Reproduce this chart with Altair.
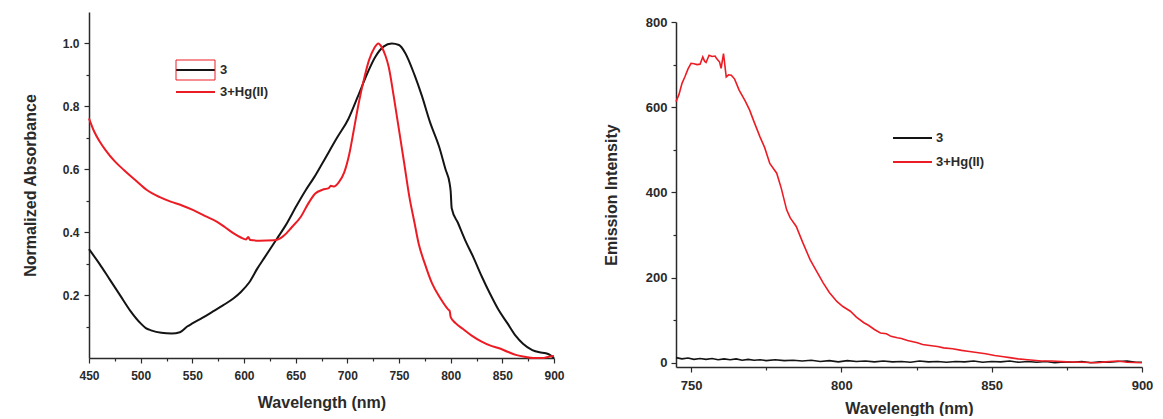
import altair as alt
import pandas as pd

# ---- absorbance spectra (normalized) ----
abs_wl_3 = [450, 460, 470, 480, 490, 500, 505, 510, 520, 530, 538, 545, 550, 560, 570,
            580, 590, 597, 605, 613, 620, 632, 640, 651, 660, 668, 676, 690, 701, 710,
            720, 727, 735, 743, 750, 756, 765, 772, 780, 789, 795, 799, 800, 801, 807,
            814, 822, 830, 838, 846, 855, 863, 870, 879, 886, 892, 896, 900]
abs_3 = [0.346, 0.30, 0.25, 0.20, 0.15, 0.11, 0.095, 0.088, 0.080, 0.078, 0.082, 0.10,
         0.11, 0.128, 0.148, 0.168, 0.19, 0.21, 0.24, 0.285, 0.32, 0.38, 0.42, 0.485,
         0.535, 0.575, 0.62, 0.70, 0.76, 0.83, 0.91, 0.957, 0.99, 1.0, 0.995, 0.97, 0.90,
         0.835, 0.75, 0.67, 0.60, 0.555, 0.53, 0.476, 0.43, 0.375, 0.32, 0.26, 0.205,
         0.155, 0.11, 0.07, 0.045, 0.025, 0.018, 0.015, 0.01, 0.0]

abs_wl_hg = [450, 455, 460, 466, 475, 484, 495, 506, 518, 529, 540, 551, 562, 574, 582,
             590, 597, 602, 604, 606, 615, 629, 635, 639, 646, 655, 662, 669, 676, 682,
             684, 687, 692, 697, 702, 706, 711, 716, 721, 726, 730, 733, 737, 740, 745,
             750, 755, 760, 765, 769, 775, 782, 790, 798, 799, 800, 805, 812, 820, 830,
             838, 847, 855, 863, 872, 880, 890, 895, 900]
abs_hg = [0.762, 0.72, 0.69, 0.661, 0.625, 0.597, 0.565, 0.534, 0.512, 0.497, 0.485,
          0.47, 0.452, 0.433, 0.415, 0.396, 0.383, 0.377, 0.385, 0.375, 0.373, 0.374,
          0.38, 0.39, 0.415, 0.449, 0.49, 0.523, 0.535, 0.54, 0.548, 0.545, 0.56, 0.59,
          0.65, 0.72, 0.81, 0.885, 0.947, 0.985, 1.0, 0.99, 0.96, 0.926, 0.83, 0.725,
          0.62, 0.513, 0.43, 0.364, 0.30, 0.237, 0.19, 0.153, 0.15, 0.13, 0.11, 0.092,
          0.072, 0.052, 0.04, 0.031, 0.02, 0.01, 0.004, 0.0, 0.0, 0.004, 0.006]

# ---- emission spectra ----
em_wl_hg = [745, 746, 747, 748, 749, 750, 751, 752, 753, 753.9, 754.5, 755, 756, 757,
            758, 758.5, 759.5, 760, 760.8, 761.7, 762.5, 763.4, 764.5, 766, 768, 769.5,
            771, 772.9, 774.5, 776.2, 777.5, 778.5, 780, 781.8, 783, 785, 787, 789.6,
            791.5, 794, 796, 798.5, 800.5, 803, 805, 807.5, 809, 811, 813, 815, 816.5,
            818.6, 820, 822, 825.3, 827, 830, 832, 834, 837, 840, 842, 845, 848, 851,
            854, 856, 858.8, 862, 866.6, 870, 875, 880, 885, 888, 892, 895, 900]
em_hg = [613, 630, 656, 672, 690, 703, 702, 700, 701, 718, 708, 705, 722, 719, 720, 714,
         706, 691, 726, 671, 676, 675, 666, 640, 615, 593, 565, 531, 505, 468, 455, 445,
         410, 359, 340, 320, 285, 242, 218, 187, 165, 144, 132, 121, 107, 94, 88, 78, 70,
         68, 62, 58.5, 57, 52, 47, 43, 40, 38, 35, 33, 29, 27, 24, 21, 17, 14, 12, 9, 7,
         4, 4, 2, 1, 0, 2, 4, 1, 0]

em_wl_3 = [745, 747, 749, 751, 753, 755, 757, 759, 761, 763, 765, 767, 769, 771, 773,
           775, 778, 781, 784, 787, 790, 793, 796, 799, 802, 805, 808, 811, 814, 817,
           820, 823, 826, 829, 832, 835, 838, 841, 844, 847, 850, 853, 856, 859, 862,
           865, 868, 871, 874, 877, 880, 883, 886, 889, 892, 895, 898, 900]
em_3 = [12, 9, 11, 8, 10, 8, 10, 7, 9, 7, 9, 6, 8, 6, 7, 5, 7, 5, 6, 4, 6, 3, 5, 2, 5,
        3, 4, 2, 4, 2, 3, 1, 4, 2, 3, 1, 3, 2, 4, 1, 3, 2, 4, 1, 3, 1, 3, 0, 2, 1, 3, 0,
        2, 1, 3, 4, 1, 1]

series_labels = ["3", "3+Hg(II)"]
series_colors = ["#141414", "#ec1c24"]

FONT = "Liberation Sans"
AXIS_COLOR = "#2a2a2a"

abs_df = pd.concat([
    pd.DataFrame({"wl": abs_wl_3, "val": abs_3, "series": series_labels[0]}),
    pd.DataFrame({"wl": abs_wl_hg, "val": abs_hg, "series": series_labels[1]}),
])
em_df = pd.concat([
    pd.DataFrame({"wl": em_wl_3, "val": em_3, "series": series_labels[0]}),
    pd.DataFrame({"wl": em_wl_hg, "val": em_hg, "series": series_labels[1]}),
])

color = alt.Color("series:N", scale=alt.Scale(domain=series_labels, range=series_colors),
                  legend=None)


def axis(title, values, label_test, label_size, title_size, title_pad, label_pad, fmt_expr):
    return alt.Axis(
        title=title, values=values, grid=False,
        labelExpr=f"({label_test}) ? {fmt_expr} : ''",
        tickSize={"condition": {"test": label_test, "value": 5}, "value": 3},
        labelFont=FONT, labelFontWeight="bold", labelFontSize=label_size,
        labelColor=AXIS_COLOR, labelPadding=label_pad, labelFlush=False,
        titleFont=FONT, titleFontWeight="bold", titleFontSize=title_size,
        titleColor=AXIS_COLOR, titlePadding=title_pad,
        domainColor=AXIS_COLOR, domainWidth=1.5, tickColor=AXIS_COLOR, tickWidth=1.2,
    )


def legend_layers(x0, x1, x_text, ys, font_size, box=None):
    layers = []
    for lab, col, yy in zip(series_labels, series_colors, ys):
        row = pd.DataFrame({"label": [lab]})
        layers.append(alt.Chart(row).mark_rule(color=col, strokeWidth=2).encode(
            x=alt.value(x0), x2=alt.value(x1), y=alt.value(yy)))
        layers.append(alt.Chart(row).mark_text(
            align="left", baseline="middle", font=FONT, fontWeight="bold",
            fontSize=font_size, color=AXIS_COLOR).encode(
            text="label:N", x=alt.value(x_text), y=alt.value(yy)))
    if box is not None:
        row = pd.DataFrame({"label": [series_labels[0]]})
        layers.append(alt.Chart(row).mark_rect(
            fill="transparent", stroke=series_colors[1], strokeWidth=1).encode(
            x=alt.value(box[0]), x2=alt.value(box[1]),
            y=alt.value(box[2]), y2=alt.value(box[3])))
    return layers


# ---- left panel: absorbance ----
abs_lines = alt.Chart(abs_df).mark_line(strokeWidth=2, interpolate="monotone").encode(
    x=alt.X("wl:Q", scale=alt.Scale(domain=[450, 900], nice=False, zero=False),
            axis=axis("Wavelength (nm)", list(range(450, 901, 25)), "datum.value % 50 == 0",
                      12, 16, 13, 7, "datum.label")),
    y=alt.Y("val:Q", scale=alt.Scale(domain=[0, 1.1], nice=False),
            axis=axis("Normalized Absorbance", [round(0.1 * i, 1) for i in range(1, 11)],
                      "round(datum.value * 10) % 2 == 0", 12, 16, 24, 5,
                      "format(datum.value, '.1f')")),
    color=color,
    detail="series:N",
)
left = alt.layer(
    abs_lines,
    *legend_layers(87, 126, 131, [58, 80], 13, box=(87, 126, 48, 68)),
).properties(width=465, height=346)

# ---- right panel: emission ----
em_lines = alt.Chart(em_df).mark_line(strokeWidth=1.6).encode(
    x=alt.X("wl:Q", scale=alt.Scale(domain=[745, 900], nice=False, zero=False),
            axis=axis("Wavelength (nm)", list(range(750, 901, 25)), "datum.value % 50 == 0",
                      13, 16, 8, 7, "datum.label")),
    y=alt.Y("val:Q", scale=alt.Scale(domain=[-10, 800], nice=False, zero=False),
            axis=axis("Emission Intensity", list(range(0, 801, 100)),
                      "datum.value % 200 == 0", 13, 16, 26, 4, "datum.label")),
    color=color,
    detail="series:N",
)
right = alt.layer(
    em_lines,
    *legend_layers(217, 256, 260, [116, 140], 13),
).properties(width=466, height=345)

# empty strip that drops the emission panel slightly below the absorbance panel
spacer = alt.Chart(pd.DataFrame({"label": [""]})).mark_point(opacity=0, size=1).encode(
    x=alt.value(1), y=alt.value(2)
).properties(width=466, height=4)

chart = alt.hconcat(
    left, alt.vconcat(spacer, right, spacing=0), spacing=38
).properties(
    padding={"left": 22, "top": 12, "right": 0, "bottom": 0},
    background="white",
).configure_view(strokeWidth=0)

chart.save("out.html", embed_options={"renderer": "svg", "actions": False})
